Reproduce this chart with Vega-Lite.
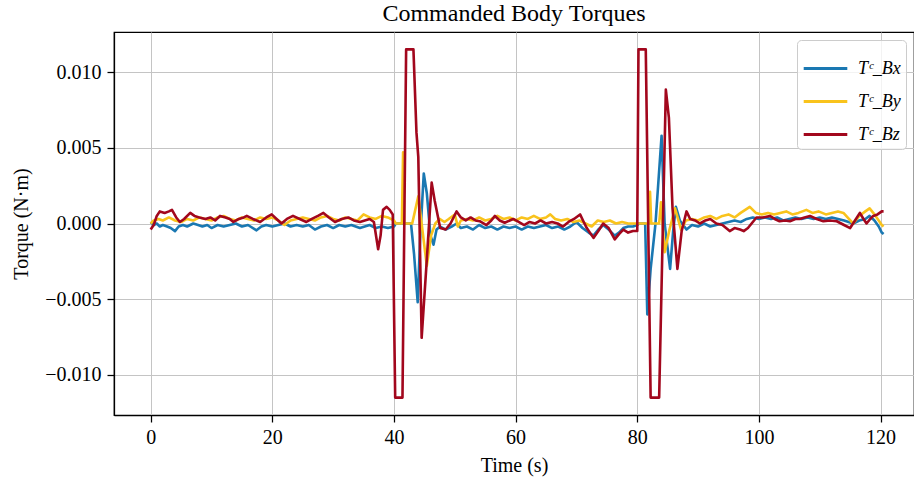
{
  "$schema": "https://vega.github.io/schema/vega-lite/v6.json",
  "autosize": "none",
  "padding": {"left": 114, "top": 32, "right": 0, "bottom": 65},
  "width": 800,
  "height": 383,
  "background": "white",
  "title": {"text": "Commanded Body Torques", "font": "Liberation Serif", "fontSize": 24, "fontWeight": "normal", "color": "black", "offset": 6, "anchor": "middle"},
  "config": {
    "view": {"stroke": "black", "strokeWidth": 1.25},
    "axis": {
      "labelFont": "Liberation Serif", "labelFontSize": 20, "labelColor": "black",
      "titleFont": "Liberation Serif", "titleFontSize": 20, "titleFontWeight": "normal", "titleColor": "black",
      "domainColor": "black", "domainWidth": 1.25, "tickColor": "black", "tickWidth": 1.25, "tickSize": 7,
      "gridColor": "#c4c4c4", "gridWidth": 1
    },
    "legend": {
      "labelFont": "Liberation Serif", "labelFontStyle": "italic", "labelFontSize": 18, "labelColor": "black",
      "symbolType": "stroke", "symbolSize": 1900, "symbolStrokeWidth": 2.8,
      "strokeColor": "#cccccc", "fillColor": "rgba(255,255,255,0.8)", "cornerRadius": 4, "padding": 5,
      "rowPadding": 0, "labelOffset": 9
    }
  },
  "datasets": {
    "bx": [
      {"t":0,"v":0.0001},{"t":0.5,"v":-0.0001},{"t":1,"v":0.0},{"t":1.5,"v":-0.0002},{"t":2,"v":-0.0001},{"t":2.7,"v":-0.0002},{"t":3.3,"v":-0.0003},{"t":4.0,"v":-0.0005},{"t":4.6,"v":-0.0002},{"t":5.3,"v":-0.0001},{"t":6,"v":-0.0002},{"t":7,"v":0.0},{"t":7.8,"v":-0.0001},{"t":8.5,"v":-0.0002},{"t":9.3,"v":-0.0001},{"t":10,"v":-0.0003},{"t":11,"v":-0.0001},{"t":12,"v":-0.0002},{"t":13,"v":-0.0001},{"t":14,"v":0.0},{"t":15,"v":-0.0002},{"t":16,"v":-0.0001},{"t":17.4,"v":-0.00045},{"t":18.2,"v":-0.0002},{"t":19,"v":-0.0001},{"t":20,"v":-0.0002},{"t":21,"v":-0.0001},{"t":22,"v":0.0},{"t":23,"v":-0.0002},{"t":24,"v":-0.0001},{"t":25,"v":-0.0002},{"t":26,"v":-0.0001},{"t":27,"v":-0.0004},{"t":28,"v":-0.0002},{"t":29,"v":-0.0001},{"t":30,"v":-0.0003},{"t":31,"v":-0.0001},{"t":32,"v":-0.0002},{"t":33,"v":-0.0001},{"t":34.4,"v":-0.0003},{"t":35.2,"v":-0.0002},{"t":36,"v":-0.0001},{"t":37,"v":-0.0003},{"t":38,"v":-0.0002},{"t":39,"v":-0.0003},{"t":40,"v":-0.0002},{"t":40.3,"v":0.0},{"t":42.8,"v":0.0},{"t":43.3,"v":-0.002},{"t":43.9,"v":-0.0052},{"t":44.3,"v":-0.001},{"t":44.9,"v":0.0033},{"t":45.4,"v":0.002},{"t":46.0,"v":-0.0008},{"t":46.5,"v":-0.0014},{"t":47.0,"v":-0.0004},{"t":47.6,"v":-0.0002},{"t":48.5,"v":-0.0004},{"t":49.5,"v":-0.0002},{"t":50.3,"v":0.0},{"t":51,"v":-0.0003},{"t":52,"v":-0.0002},{"t":53,"v":-0.0004},{"t":54,"v":-0.0001},{"t":55,"v":-0.0003},{"t":56,"v":-0.0002},{"t":57,"v":-0.0004},{"t":58,"v":-0.0002},{"t":59,"v":-0.0003},{"t":60,"v":-0.0002},{"t":61,"v":-0.0004},{"t":62,"v":-0.0002},{"t":63,"v":-0.0003},{"t":64,"v":-0.0002},{"t":65,"v":-0.0001},{"t":66,"v":-0.0003},{"t":67,"v":-0.0002},{"t":68,"v":-0.0004},{"t":69,"v":-0.0002},{"t":70,"v":0.0001},{"t":71,"v":-0.0003},{"t":72,"v":-0.0006},{"t":72.8,"v":-0.0008},{"t":73.6,"v":-0.0004},{"t":74.4,"v":-0.0001},{"t":75.3,"v":-0.0004},{"t":76.3,"v":-0.0008},{"t":77,"v":-0.0006},{"t":77.7,"v":-0.0003},{"t":78.5,"v":-0.0002},{"t":79.3,"v":-0.0002},{"t":80,"v":-0.0001},{"t":80.3,"v":0.0},{"t":81.3,"v":0.0},{"t":81.65,"v":-0.006},{"t":82.2,"v":-0.003},{"t":83,"v":0.0},{"t":84.0,"v":0.0058},{"t":84.5,"v":0.0},{"t":85.4,"v":-0.003},{"t":85.9,"v":-0.0005},{"t":86.35,"v":0.0011},{"t":87,"v":0.0002},{"t":88.1,"v":-0.0004},{"t":89,"v":-0.0001},{"t":90,"v":-0.0002},{"t":91,"v":0.0},{"t":92,"v":-0.0002},{"t":93,"v":-0.0001},{"t":94,"v":0.0},{"t":95,"v":0.0001},{"t":96,"v":0.0002},{"t":97,"v":0.0001},{"t":98,"v":0.0003},{"t":99,"v":0.0004},{"t":100,"v":0.0003},{"t":101,"v":0.0004},{"t":102,"v":0.0003},{"t":103,"v":0.0004},{"t":104,"v":0.0002},{"t":105,"v":0.0003},{"t":106,"v":0.0004},{"t":107,"v":0.0003},{"t":108,"v":0.0004},{"t":109,"v":0.0003},{"t":110,"v":0.0004},{"t":111,"v":0.0003},{"t":112,"v":0.0004},{"t":113,"v":0.0003},{"t":114,"v":0.0002},{"t":115.5,"v":0.0},{"t":116.5,"v":0.0002},{"t":117.5,"v":0.0003},{"t":118.2,"v":0.0005},{"t":119,"v":0.0002},{"t":119.7,"v":-0.0002},{"t":120.2,"v":-0.0006},{"t":120.5,"v":-0.0007}
    ],
    "by": [
      {"t":0,"v":0.0},{"t":0.5,"v":0.0002},{"t":1.3,"v":0.0003},{"t":2,"v":0.0002},{"t":3,"v":0.0004},{"t":4,"v":0.0002},{"t":5,"v":0.0001},{"t":6,"v":0.0003},{"t":7,"v":0.0002},{"t":8,"v":0.0004},{"t":9,"v":0.0003},{"t":10,"v":0.0002},{"t":11,"v":0.0004},{"t":12,"v":0.0005},{"t":13,"v":0.0003},{"t":14,"v":0.0002},{"t":15,"v":0.0004},{"t":16,"v":0.0003},{"t":17,"v":0.0002},{"t":18,"v":0.0004},{"t":19,"v":0.0003},{"t":20,"v":0.0004},{"t":21,"v":0.0002},{"t":22,"v":-0.0001},{"t":23,"v":0.0002},{"t":24,"v":0.0003},{"t":25,"v":0.0004},{"t":26,"v":0.0003},{"t":27,"v":0.0002},{"t":28,"v":0.0004},{"t":29,"v":0.0005},{"t":30,"v":0.0003},{"t":31,"v":0.0002},{"t":32,"v":0.0004},{"t":33,"v":0.0003},{"t":34,"v":0.0002},{"t":35,"v":0.0006},{"t":36,"v":0.0004},{"t":37,"v":0.0003},{"t":38,"v":0.0005},{"t":39,"v":0.0004},{"t":40,"v":0.0002},{"t":40.3,"v":0.0},{"t":41.3,"v":0.0},{"t":41.5,"v":0.0047},{"t":41.7,"v":0.0},{"t":43.0,"v":0.0},{"t":44.0,"v":0.0018},{"t":45.4,"v":-0.0028},{"t":46.1,"v":-0.0008},{"t":46.8,"v":0.0},{"t":47.5,"v":0.0003},{"t":48.3,"v":0.0001},{"t":49,"v":0.0003},{"t":50,"v":0.0006},{"t":50.5,"v":-0.0002},{"t":51,"v":0.0002},{"t":52,"v":0.0003},{"t":53,"v":0.0002},{"t":54,"v":0.0004},{"t":55,"v":0.0002},{"t":56,"v":0.0003},{"t":57,"v":0.0005},{"t":58,"v":0.0003},{"t":59,"v":0.0004},{"t":60,"v":0.0002},{"t":61,"v":0.0004},{"t":62,"v":0.0003},{"t":63,"v":0.0005},{"t":64,"v":0.0003},{"t":65,"v":0.0004},{"t":65.7,"v":0.0006},{"t":66.5,"v":0.0003},{"t":67.5,"v":0.0002},{"t":68.5,"v":0.0003},{"t":69.5,"v":0.0001},{"t":70.5,"v":0.0002},{"t":71.5,"v":0.0},{"t":72.5,"v":-0.0002},{"t":73.5,"v":0.0002},{"t":74.5,"v":0.0001},{"t":75.5,"v":0.0002},{"t":76.5,"v":0.0},{"t":77.5,"v":0.0001},{"t":78.5,"v":0.0},{"t":80,"v":0.0},{"t":81.9,"v":0.0},{"t":82.1,"v":0.0021},{"t":82.3,"v":0.0},{"t":83.6,"v":0.0},{"t":83.9,"v":0.0014},{"t":84.5,"v":-0.0019},{"t":85.3,"v":-0.0004},{"t":86.2,"v":0.001},{"t":87.2,"v":-0.0004},{"t":88,"v":0.0002},{"t":89,"v":0.0003},{"t":90,"v":0.0002},{"t":91,"v":0.0004},{"t":92,"v":0.0005},{"t":93,"v":0.0003},{"t":94,"v":0.0005},{"t":95,"v":0.0006},{"t":96,"v":0.0004},{"t":97,"v":0.0007},{"t":98.5,"v":0.0011},{"t":99.5,"v":0.0007},{"t":100.5,"v":0.0006},{"t":101.5,"v":0.0007},{"t":102.5,"v":0.0006},{"t":103.5,"v":0.0007},{"t":104.5,"v":0.0008},{"t":105.5,"v":0.0006},{"t":106.5,"v":0.0007},{"t":107.8,"v":0.0009},{"t":108.8,"v":0.0007},{"t":109.8,"v":0.0008},{"t":111,"v":0.0006},{"t":112,"v":0.0007},{"t":113,"v":0.0008},{"t":113.9,"v":0.0007},{"t":114.8,"v":0.0003},{"t":115.5,"v":0.0},{"t":116.5,"v":0.0005},{"t":117.5,"v":0.0008},{"t":118.2,"v":0.001},{"t":119,"v":0.0006},{"t":119.7,"v":0.0002},{"t":120.2,"v":-0.0001},{"t":120.5,"v":-0.0002}
    ],
    "bz": [
      {"t":0,"v":-0.0004},{"t":0.5,"v":-0.0001},{"t":1.0,"v":0.0005},{"t":1.5,"v":0.0008},{"t":2.3,"v":0.0007},{"t":3,"v":0.0008},{"t":3.5,"v":0.0009},{"t":4.2,"v":0.0004},{"t":4.8,"v":0.0001},{"t":5.5,"v":0.0003},{"t":6.5,"v":0.0007},{"t":7.2,"v":0.0005},{"t":8,"v":0.0004},{"t":9,"v":0.0003},{"t":9.8,"v":0.0004},{"t":10.6,"v":0.0002},{"t":11.4,"v":0.0005},{"t":12.3,"v":0.0004},{"t":13,"v":0.0003},{"t":13.6,"v":0.0001},{"t":14.5,"v":0.0003},{"t":15.3,"v":0.0004},{"t":15.8,"v":0.0005},{"t":16.8,"v":0.0003},{"t":18,"v":0.0001},{"t":19,"v":0.0004},{"t":19.9,"v":0.0006},{"t":20.7,"v":0.0003},{"t":21.5,"v":0.0},{"t":22.4,"v":0.0003},{"t":23.4,"v":0.0005},{"t":24.5,"v":0.0003},{"t":25.6,"v":0.0001},{"t":26.5,"v":0.0003},{"t":27.5,"v":0.0005},{"t":28.4,"v":0.0007},{"t":29.3,"v":0.0004},{"t":30.3,"v":0.0001},{"t":31.4,"v":0.0003},{"t":32.5,"v":0.0004},{"t":33.4,"v":0.0002},{"t":34.4,"v":0.0001},{"t":35.2,"v":0.0002},{"t":36.0,"v":0.0003},{"t":36.7,"v":0.0001},{"t":37.4,"v":-0.0017},{"t":37.8,"v":-0.0008},{"t":38.2,"v":0.0009},{"t":38.8,"v":0.0011},{"t":39.3,"v":0.0009},{"t":39.8,"v":0.0006},{"t":40.2,"v":-0.0115},{"t":41.4,"v":-0.0115},{"t":42.0,"v":0.0115},{"t":43.2,"v":0.0115},{"t":43.7,"v":0.006},{"t":44.0,"v":0.0044},{"t":44.55,"v":-0.00755},{"t":45.3,"v":-0.003},{"t":46.2,"v":0.0027},{"t":46.7,"v":0.0015},{"t":47.6,"v":-0.0003},{"t":48.5,"v":-0.0004},{"t":49.3,"v":0.0},{"t":50.3,"v":0.0008},{"t":51,"v":0.0004},{"t":51.8,"v":0.0002},{"t":52.6,"v":0.0004},{"t":53.4,"v":0.0002},{"t":54.1,"v":0.00015},{"t":55.2,"v":-0.0001},{"t":56.0,"v":0.0002},{"t":56.6,"v":0.0005},{"t":57.4,"v":0.0002},{"t":58.2,"v":0.00005},{"t":59.6,"v":0.0003},{"t":60.5,"v":0.0001},{"t":61.4,"v":-0.0001},{"t":62.3,"v":0.0001},{"t":63.2,"v":0.0},{"t":64.1,"v":0.0002},{"t":65,"v":0.0},{"t":66,"v":0.0001},{"t":66.9,"v":0.0},{"t":67.8,"v":-0.0002},{"t":68.7,"v":0.0001},{"t":69.6,"v":0.0003},{"t":70.6,"v":0.0006},{"t":71.2,"v":0.0001},{"t":71.7,"v":-0.0003},{"t":72.8,"v":-0.00095},{"t":73.6,"v":-0.0005},{"t":74.4,"v":0.0},{"t":75.3,"v":-0.0003},{"t":76.3,"v":-0.00105},{"t":77,"v":-0.0007},{"t":77.7,"v":-0.0004},{"t":78.5,"v":-0.0006},{"t":79.3,"v":-0.0005},{"t":80.0,"v":-0.0005},{"t":80.2,"v":0.0115},{"t":81.4,"v":0.0115},{"t":82.2,"v":-0.0115},{"t":83.6,"v":-0.0115},{"t":84.7,"v":0.00885},{"t":85.2,"v":0.007},{"t":85.8,"v":0.001},{"t":86.6,"v":-0.003},{"t":87.3,"v":-0.0005},{"t":88.1,"v":0.0008},{"t":88.7,"v":0.0003},{"t":89.5,"v":0.0002},{"t":90.3,"v":0.0},{"t":91.2,"v":0.0002},{"t":92,"v":0.0003},{"t":93,"v":0.0},{"t":94,"v":-0.0001},{"t":95.2,"v":-0.0005},{"t":96,"v":-0.0003},{"t":96.9,"v":-0.0004},{"t":97.5,"v":-0.0005},{"t":98.2,"v":-0.0003},{"t":99,"v":0.0001},{"t":99.6,"v":0.0004},{"t":100.7,"v":0.0004},{"t":101.8,"v":0.0005},{"t":102.6,"v":0.0003},{"t":103.4,"v":0.00015},{"t":104.3,"v":0.0002},{"t":105.1,"v":0.00015},{"t":106,"v":0.0003},{"t":106.7,"v":0.0003},{"t":107.5,"v":0.0004},{"t":108.4,"v":0.0005},{"t":109.5,"v":0.0003},{"t":110.6,"v":0.00015},{"t":111.7,"v":0.0002},{"t":112.8,"v":0.00015},{"t":114,"v":-0.0001},{"t":115,"v":-0.0003},{"t":115.8,"v":0.0002},{"t":116.6,"v":0.0007},{"t":117.2,"v":0.0003},{"t":117.7,"v":0.0},{"t":118.3,"v":0.0003},{"t":118.8,"v":0.0005},{"t":119.5,"v":0.0006},{"t":120.2,"v":0.0008},{"t":120.5,"v":0.0008}
    ]
  },
  "encoding": {
    "x": {"field": "t", "type": "quantitative", "title": "Time (s)",
      "scale": {"domain": [-6.03, 125.5], "nice": false, "zero": false},
      "axis": {"values": [0, 20, 40, 60, 80, 100, 120], "labelPadding": 5, "titlePadding": 8, "labelFlush": false}},
    "y": {"field": "v", "type": "quantitative", "title": "Torque (N·m)",
      "scale": {"domain": [-0.01265, 0.01265], "nice": false, "zero": false},
      "axis": {"values": [-0.01, -0.005, 0, 0.005, 0.01], "format": ".3f", "labelPadding": 6, "titlePadding": 13, "labelFlush": false}}
  },
  "layer": [
    {"data": {"name": "bx"}, "mark": {"type": "line", "strokeWidth": 2.6, "strokeJoin": "round", "clip": true},
      "encoding": {"color": {"datum": "Tᶜ_Bx", "type": "nominal",
        "scale": {"domain": ["Tᶜ_Bx", "Tᶜ_By", "Tᶜ_Bz"], "range": ["#1a78b2", "#f9c31c", "#a2071d"]},
        "legend": {"title": null, "orient": "top-right", "offset": 8}}}},
    {"data": {"name": "by"}, "mark": {"type": "line", "strokeWidth": 2.6, "strokeJoin": "round", "clip": true},
      "encoding": {"color": {"datum": "Tᶜ_By", "type": "nominal"}}},
    {"data": {"name": "bz"}, "mark": {"type": "line", "strokeWidth": 2.6, "strokeJoin": "round", "clip": true},
      "encoding": {"color": {"datum": "Tᶜ_Bz", "type": "nominal"}}}
  ]
}
